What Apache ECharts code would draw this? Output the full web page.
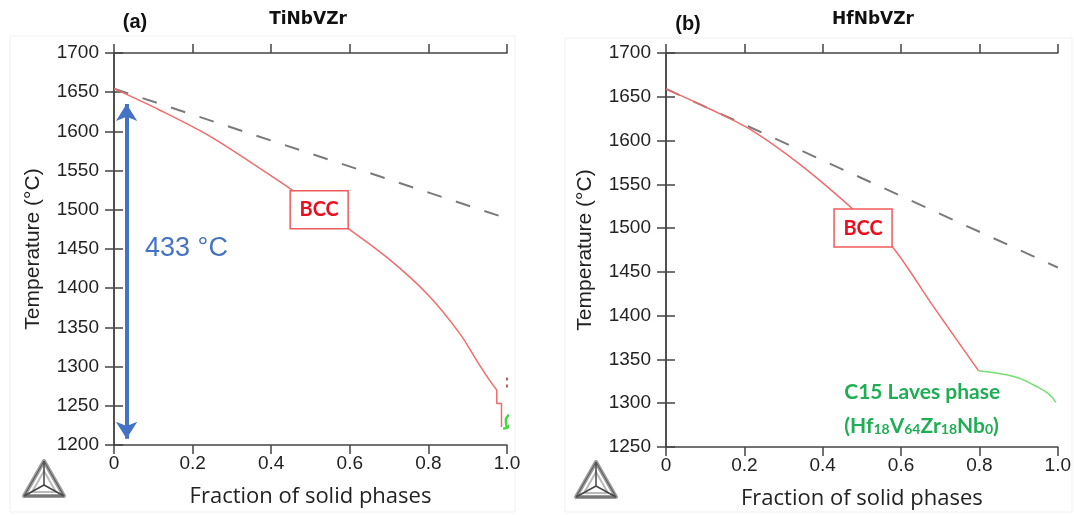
<!DOCTYPE html>
<html><head><meta charset="utf-8">
<script src="https://cdn.jsdelivr.net/npm/echarts@6/dist/echarts.min.js"></script>
<style>html,body{margin:0;padding:0;background:#fff}#c{width:1074px;height:515px}</style>
</head><body><div id="c"></div>
<script>
// ---------- data ----------
const panelTitles = ['(a)', '(b)'];
const alloyNames = ['TiNbVZr', 'HfNbVZr'];
const xTickLabels = ['0', '0.2', '0.4', '0.6', '0.8', '1.0'];
const xAxisName = 'Fraction of solid phases';
const yAxisName = 'Temperature (°C)';

// Panel (a) TiNbVZr
const aBccX = [0, 0.117, 0.25, 0.448, 0.596, 0.70, 0.80, 0.88, 0.925, 0.955, 0.974];
const aBccT = [1654.5, 1627, 1592, 1527, 1476, 1437, 1391, 1342, 1306, 1283, 1270];
const aStepX = [0.974, 0.974, 0.986, 0.986];
const aStepT = [1270, 1253, 1253, 1223];
const aScheilX = [0, 1];
const aScheilT = [1654.5, 1489];
const aLavesX = [0.99, 1.0, 1.009, 1.006, 0.997, 1.0];
const aLavesT = [1221, 1222, 1229, 1238, 1232, 1221];
const aMarkX = [1.0, 1.0];
const aMarkT = [1286, 1271];
const aArrowX = [0.032, 0.032];
const aArrowT = [1635, 1208];
const aRangeText = '433 °C';
const aRangePos = [0.079, 1451];
const aBccLabelPos = [0.522, 1500];

// Panel (b) HfNbVZr
const bBccX = [0, 0.112, 0.214, 0.341, 0.476, 0.578, 0.68, 0.798];
const bBccT = [1659, 1636, 1613, 1573, 1522, 1478.5, 1412, 1337];
const bLavesX = [0.798, 0.892, 0.942, 0.976, 0.995];
const bLavesT = [1337, 1330, 1320, 1311, 1301];
const bScheilX = [0, 1];
const bScheilT = [1659, 1455];
const bBccLabelPos = [0.503, 1500];
const bLavesLabelPos = [0.455, 1313];
const bLavesFormulaPos = [0.455, 1278];

const yMinA = 1200, yMaxA = 1700, yMinB = 1250, yMaxB = 1700, yStep = 50;

// ---------- helpers ----------
const pts = (xs, ys) => xs.map((x, i) => [x, ys[i]]);
const RED = '#f26b6b', GREEN = '#74e070', LABEL_GREEN = '#1fae54', BLUE = '#4472C4';
const AX = '#444';
const tickFont = {color: '#222', fontSize: 19, fontFamily: 'Liberation Sans, Arial, sans-serif'};

function xAxes(grid) {
  return [
    {type: 'value', gridIndex: grid, min: 0, max: 1, interval: 0.2, position: 'bottom',
     axisLine: {show: true, lineStyle: {color: AX, width: 1.5}},
     axisTick: {show: true, length: 9, lineStyle: {color: AX, width: 1.5}},
     axisLabel: Object.assign({margin: 9, formatter: v => xTickLabels[Math.round(v / 0.2)]}, tickFont),
     splitLine: {show: false},
     name: xAxisName, nameLocation: 'middle', nameGap: 41,
     nameTextStyle: {color: '#222', fontSize: 22, fontFamily: 'Open Sans, sans-serif'}},
    {type: 'value', gridIndex: grid, min: 0, max: 1, interval: 0.2, position: 'top',
     axisLine: {show: true, lineStyle: {color: AX, width: 1.5}},
     axisTick: {show: true, length: 9, lineStyle: {color: AX, width: 1.5}},
     axisLabel: {show: false}, splitLine: {show: false}}
  ];
}
function yAxes(grid, mn, mx) {
  return [
    {type: 'value', gridIndex: grid, min: mn, max: mx, interval: yStep, position: 'left',
     axisLine: {show: true, lineStyle: {color: AX, width: 1.5}},
     axisTick: {show: true, length: 9, lineStyle: {color: AX, width: 1.5}},
     axisLabel: Object.assign({margin: 15, formatter: v => String(v)}, tickFont),
     splitLine: {show: false},
     name: yAxisName, nameLocation: 'middle', nameGap: 70, nameRotate: 90,
     nameTextStyle: {color: '#222', fontSize: 21, fontFamily: 'Liberation Sans, Arial, sans-serif'}},
    {type: 'value', gridIndex: grid, min: mn, max: mx, interval: yStep, position: 'right',
     axisLine: {show: true, lineStyle: {color: AX, width: 1.5}},
     axisTick: {show: true, length: 9, lineStyle: {color: AX, width: 1.5}},
     axisLabel: {show: false}, splitLine: {show: false}}
  ];
}
function line(xi, yi, data, color, width, type, extra) {
  return Object.assign({type: 'line', xAxisIndex: xi, yAxisIndex: yi, data: data, showSymbol: false,
    symbol: 'none', smooth: false, silent: true, animation: false,
    lineStyle: {color: color, width: width, type: type || 'solid'}}, extra || {});
}

const chart = echarts.init(document.getElementById('c'), null, {renderer: 'canvas'});
chart.setOption({
  backgroundColor: '#fff',
  animation: false,
  grid: [
    {left: 114, right: 567, top: 53, bottom: 70},
    {left: 666, right: 15, top: 53, bottom: 68}
  ],
  xAxis: [...xAxes(0), ...xAxes(1)],
  yAxis: [...yAxes(0, yMinA, yMaxA), ...yAxes(1, yMinB, yMaxB)],
  series: [
    line(0, 0, pts(aScheilX, aScheilT), '#7a7a7a', 2, [15, 15]),
    line(0, 0, pts(aBccX, aBccT), RED, 1.5, 'solid', {smooth: 0.3}),
    line(0, 0, pts(aStepX, aStepT), RED, 1.5),
    line(0, 0, pts(aLavesX, aLavesT), '#3cdc3c', 2.5, 'solid', {clip: false, smooth: 0.5, z: 5}),
    line(0, 0, pts(aMarkX, aMarkT), '#b02828', 1.5, [3, 4], {clip: false}),
    line(0, 0, [], BLUE, 4, 'solid', {
      markLine: {silent: true, symbol: ['arrow', 'arrow'], symbolSize: [16, 17],
        label: {show: false}, lineStyle: {color: BLUE, width: 4, type: 'solid'},
        data: [[{coord: [aArrowX[0], aArrowT[0]]}, {coord: [aArrowX[1], aArrowT[1]]}]]}
    }),
    line(2, 2, pts(bScheilX, bScheilT), '#7a7a7a', 2, [15, 15]),
    line(2, 2, pts(bBccX, bBccT), RED, 1.5, 'solid', {smooth: 0.3}),
    line(2, 2, pts(bLavesX, bLavesT), GREEN, 1.5, 'solid', {smooth: 0.4})
  ]
});

// ---------- annotations ----------
const px = (g, p) => chart.convertToPixel({xAxisIndex: g * 2, yAxisIndex: g * 2}, p);
function bccBox(g, p) {
  const c = px(g, p);
  return {type: 'group', z: 100, children: [
    {type: 'rect', z: 100, shape: {x: c[0] - 29, y: c[1] - 19, width: 58, height: 38},
     style: {fill: '#fff', stroke: '#f05a5a', lineWidth: 1.5}},
    {type: 'text', z: 101, x: c[0], y: c[1], style: {text: 'BCC', fill: '#e8101e', font: 'bold 20px Lato, sans-serif',
     align: 'center', verticalAlign: 'middle'}}
  ]};
}
function logo(cx, by) {
  const a = [cx, by - 35], b = [cx - 20, by], c = [cx + 20, by];
  const m = [cx, by - 11];
  return {type: 'group', children: [
    {type: 'polygon', shape: {points: [a, b, c]}, style: {fill: 'none', stroke: '#9a9a9a', lineWidth: 4, lineJoin: 'round'}},
    {type: 'polygon', shape: {points: [[cx, by - 25], [cx - 12, by - 4], [cx + 12, by - 4]]}, style: {fill: 'none', stroke: '#bbb', lineWidth: 2}},
    {type: 'polyline', shape: {points: [a, m]}, style: {stroke: '#444', lineWidth: 1.5}},
    {type: 'polyline', shape: {points: [b, m]}, style: {stroke: '#444', lineWidth: 1.5}},
    {type: 'polyline', shape: {points: [c, m]}, style: {stroke: '#444', lineWidth: 1.5}},
    {type: 'polyline', shape: {points: [a, b, c, a]}, style: {fill: 'none', stroke: '#555', lineWidth: 1}}
  ]};
}
const rangePx = px(0, aRangePos);
const lavesPx = px(1, bLavesLabelPos);
const formulaPx = px(1, bLavesFormulaPos);
chart.setOption({
  graphic: [
    {type: 'rect', shape: {x: 10, y: 36, width: 505, height: 476}, style: {fill: 'none', stroke: '#f0f0f0', lineWidth: 1}, z: -10},
    {type: 'rect', shape: {x: 565, y: 38, width: 507, height: 474}, style: {fill: 'none', stroke: '#f0f0f0', lineWidth: 1}, z: -10},
    {type: 'text', x: 135, y: 22, style: {text: panelTitles[0], font: 'bold 20px Liberation Sans, Arial', fill: '#111', align: 'center', verticalAlign: 'middle'}},
    {type: 'text', x: 308, y: 20, style: {text: alloyNames[0], font: 'bold 17px DejaVu Sans, sans-serif', fill: '#111', align: 'center', verticalAlign: 'middle'}},
    {type: 'text', x: 688, y: 24, style: {text: panelTitles[1], font: 'bold 20px Liberation Sans, Arial', fill: '#111', align: 'center', verticalAlign: 'middle'}},
    {type: 'text', x: 873, y: 20, style: {text: alloyNames[1], font: 'bold 17px DejaVu Sans, sans-serif', fill: '#111', align: 'center', verticalAlign: 'middle'}},
    {type: 'text', x: rangePx[0], y: rangePx[1], style: {text: aRangeText, font: '27px Liberation Sans, Arial', fill: BLUE, align: 'left', verticalAlign: 'middle'}},
    bccBox(0, aBccLabelPos),
    bccBox(1, bBccLabelPos),
    {type: 'text', x: lavesPx[0], y: lavesPx[1], style: {text: 'C15 Laves phase', font: 'bold 21px Lato, sans-serif', fill: LABEL_GREEN, align: 'left', verticalAlign: 'middle'}},
    {type: 'text', x: formulaPx[0], y: formulaPx[1], style: {
      text: '{n|(Hf}{s|18}{n|V}{s|64}{n|Zr}{s|18}{n|Nb}{s|0}{n|)}',
      align: 'left', verticalAlign: 'middle',
      rich: {
        n: {fontSize: 21, fontWeight: 'bold', fontFamily: 'Lato, sans-serif', fill: LABEL_GREEN, color: LABEL_GREEN, lineHeight: 28, verticalAlign: 'bottom'},
        s: {fontSize: 14, fontWeight: 'bold', fontFamily: 'Lato, sans-serif', fill: LABEL_GREEN, color: LABEL_GREEN, lineHeight: 12, verticalAlign: 'bottom'}
      }}},
    logo(44, 496),
    logo(596, 497)
  ]
});
</script>
</body></html>
